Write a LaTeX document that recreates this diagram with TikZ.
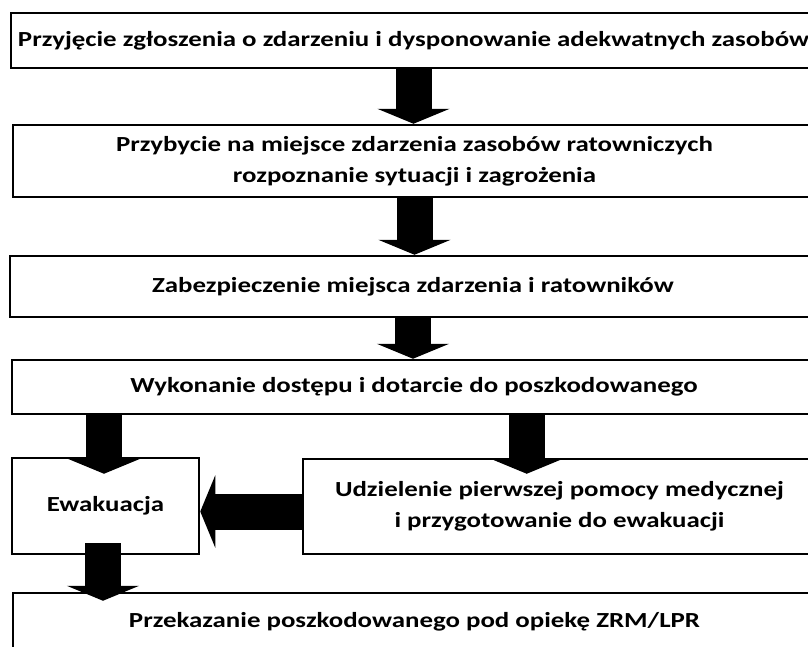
\documentclass[tikz,border=0pt]{standalone}
\usepackage{fontspec}
\usepackage{graphicx}
\setmainfont{Carlito}
\usetikzlibrary{arrows.meta,calc}
\newcommand{\wt}[1]{\scalebox{1.25}[1]{#1}}
\begin{document}
\begin{tikzpicture}[x=1pt,y=-1pt,
  box/.style={draw, line width=2.5pt, fill=white, align=center, inner sep=0pt,
    font=\bfseries\fontsize{21.5}{31}\selectfont},
  blk/.style={draw=black, line width=36pt, -{Triangle[width=72pt,length=15pt]}}]
\useasboundingbox (0,0) rectangle (808,646);
\clip (0,0) rectangle (808,646);
\node[box, minimum width=805pt, minimum height=55pt] (b1) at (413.5,40.5)
  {\wt{Przyjęcie zgłoszenia o zdarzeniu i dysponowanie adekwatnych zasobów}};
\node[box, minimum width=803pt, minimum height=72pt] (b2) at (414.5,161)
  {\wt{Przybycie na miejsce zdarzenia zasobów ratowniczych}\\\wt{rozpoznanie sytuacji i zagrożenia}};
\node[box, minimum width=806pt, minimum height=61pt] (b3) at (413,286.5)
  {\wt{Zabezpieczenie miejsca zdarzenia i ratowników}};
\node[box, minimum width=804pt, minimum height=54pt] (b4) at (414,387)
  {\wt{Wykonanie dostępu i dotarcie do poszkodowanego}};
\node[box, minimum width=187pt, minimum height=96pt] (ewak) at (105.5,506)
  {\wt{Ewakuacja}};
\node[box, minimum width=513pt, minimum height=95pt] (udz) at (559.5,506.5)
  {\wt{Udzielenie pierwszej pomocy medycznej}\\\wt{i przygotowanie do ewakuacji}};
\node[box, minimum width=803pt, minimum height=58pt] (b6) at (414.5,622)
  {\wt{Przekazanie poszkodowanego pod opiekę ZRM/LPR}};
% arrows
\draw[blk] (b1.south) -- (b1.south |- b2.north);
\draw[blk] (b2.south) -- (b2.south |- b3.north);
\draw[blk] (b3.south) -- (b3.south |- b4.north);
\coordinate (lt) at ($(ewak.north)+(-1.5,17)$);
\draw[blk] (b4.south -| lt) -- (lt);
\coordinate (rt) at ($(udz.north west)+(225,16)$);
\draw[blk] (b4.south -| rt) -- (rt);
\coordinate (hs) at ($(udz.west)+(0,5)$);
\draw[blk] (hs) -- (hs -| ewak.east);
\coordinate (bs) at ($(ewak.south)+(-2.5,-12)$);
\draw[blk] (bs) -- ($(bs |- b6.north)+(0,9)$);
\end{tikzpicture}
\end{document}
